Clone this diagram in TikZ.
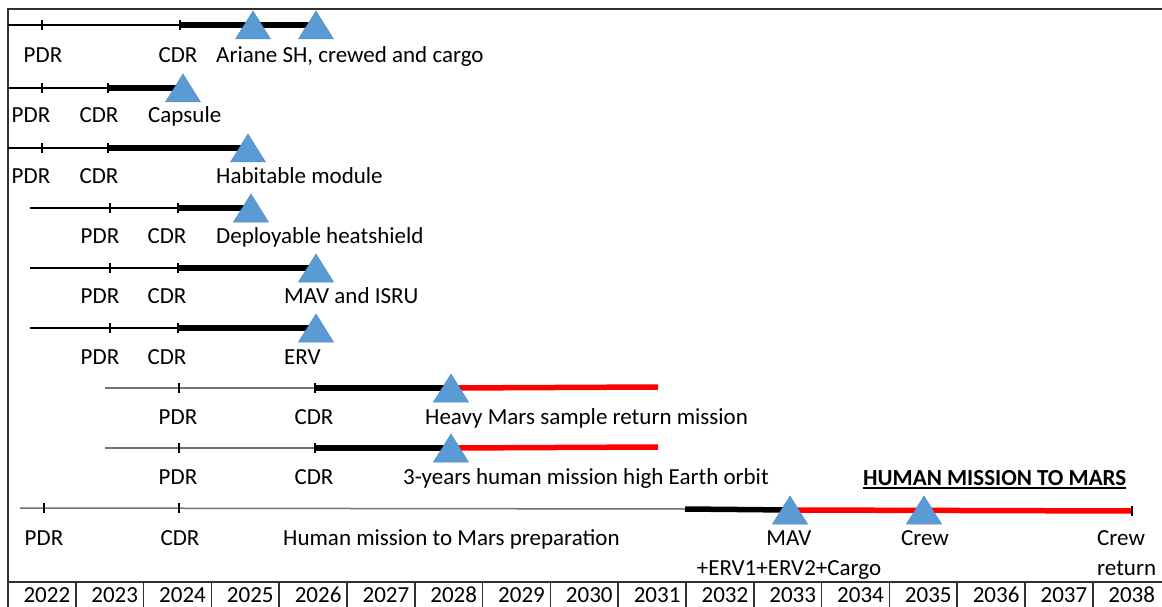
\documentclass[tikz,border=0pt]{standalone}
\usepackage{fontspec}
\setmainfont{Carlito}
\definecolor{triblue}{HTML}{5B9BD5}
\definecolor{tlred}{HTML}{FF0000}
\definecolor{gridc}{HTML}{303030}
\tikzset{
  thinline/.style={line width=1.3pt, black},
  greyline/.style={line width=1.5pt, black!55},
  thickbar/.style={line width=5.5pt, black},
  redbar/.style={line width=5.5pt, tlred},
  tickmk/.style={line width=1.3pt, black},
  gridline/.style={line width=1.5pt, gridc},
  lbl/.style={inner sep=0pt, anchor=base, font=\fontsize{23}{27}\selectfont, text=black},
  desc/.style={lbl, anchor=base west},
  tri/.pic={\fill[triblue, draw=triblue!90!black, line width=0.5pt] (-17.5,14) -- (0,-14) -- (17.5,14) -- cycle;}
}
\newcommand{\tickat}[1]{\draw[tickmk] (#1) ++(0,-5) -- ++(0,10);}
\begin{document}
\begin{tikzpicture}[x=1pt,y=-1pt]
\useasboundingbox (0,0) rectangle (1162,607);
% frame and table
\coordinate (tl) at (8,9);
\coordinate (tr) at (1162,9);
\coordinate (bl) at (8,607);
\coordinate (tabl) at (8,582);
\coordinate (tabr) at (1162,582);
\draw[gridline] (tr) -- (tl) -- (bl);
\draw[gridline] (tabl) -- (tabr);
\foreach \k in {1,...,16} {
  \coordinate (ct\k) at ({8+67.8*\k},582);
  \coordinate (cb\k) at ({8+67.8*\k},607);
  \draw[gridline] (ct\k) -- (cb\k);
}
\foreach \k in {0,...,16} {
  \pgfmathtruncatemacro\yr{2022+\k}
  \node[lbl] (yr\k) at ({8+67.8*(\k+0.5)+5},602) {\yr};
}
% ---------- row 1
\coordinate (a1) at (8,25); \coordinate (p1) at (42,25); \coordinate (c1) at (180,25);
\coordinate (m1a) at (253,25); \coordinate (m1b) at (316,25);
\draw[thinline] (a1) -- (c1);
\draw[thickbar] (c1) -- (m1b);
\tickat{p1} \tickat{c1}
\pic at (m1a) {tri}; \pic at (m1b) {tri};
\node[lbl] (lp1) at (43,63) {PDR};
\node[lbl] (lc1) at (178,63) {CDR};
\node[desc] (d1) at (216,63) {Ariane SH, crewed and cargo};
% ---------- row 2
\coordinate (a2) at (8,88); \coordinate (p2) at (42,88); \coordinate (c2) at (108,88);
\coordinate (m2) at (183,88);
\draw[thinline] (a2) -- (c2);
\draw[thickbar] (c2) -- (m2);
\tickat{p2} \tickat{c2}
\pic at (m2) {tri};
\node[lbl] (lp2) at (31,123) {PDR};
\node[lbl] (lc2) at (99,123) {CDR};
\node[desc] (d2) at (148,123) {Capsule};
% ---------- row 3
\coordinate (a3) at (8,148); \coordinate (p3) at (42,148); \coordinate (c3) at (108,148);
\coordinate (m3) at (248,148);
\draw[thinline] (a3) -- (c3);
\draw[thickbar] (c3) -- (m3);
\tickat{p3} \tickat{c3}
\pic at (m3) {tri};
\node[lbl] (lp3) at (31,183) {PDR};
\node[lbl] (lc3) at (99,183) {CDR};
\node[desc] (d3) at (216,183) {Habitable module};
% ---------- row 4
\coordinate (a4) at (30,208); \coordinate (p4) at (110,208); \coordinate (c4) at (178,208);
\coordinate (m4) at (251,208);
\draw[thinline] (a4) -- (c4);
\draw[thickbar] (c4) -- (m4);
\tickat{p4} \tickat{c4}
\pic at (m4) {tri};
\node[lbl] (lp4) at (100,243) {PDR};
\node[lbl] (lc4) at (167,243) {CDR};
\node[desc] (d4) at (216,243) {Deployable heatshield};
% ---------- row 5
\coordinate (a5) at (30,268); \coordinate (p5) at (110,268); \coordinate (c5) at (178,268);
\coordinate (m5) at (316,268);
\draw[thinline] (a5) -- (c5);
\draw[thickbar] (c5) -- (m5);
\tickat{p5} \tickat{c5}
\pic at (m5) {tri};
\node[lbl] (lp5) at (100,303) {PDR};
\node[lbl] (lc5) at (167,303) {CDR};
\node[desc] (d5) at (284,303) {MAV and ISRU};
% ---------- row 6
\coordinate (a6) at (30,328); \coordinate (p6) at (110,328); \coordinate (c6) at (178,328);
\coordinate (m6) at (316,328);
\draw[thinline] (a6) -- (c6);
\draw[thickbar] (c6) -- (m6);
\tickat{p6} \tickat{c6}
\pic at (m6) {tri};
\node[lbl] (lp6) at (100,364) {PDR};
\node[lbl] (lc6) at (167,364) {CDR};
\node[desc] (d6) at (284,364) {ERV};
% ---------- row 7
\coordinate (a7) at (105,388); \coordinate (p7) at (179,388); \coordinate (c7) at (315,388);
\coordinate (m7) at (451,388); \coordinate (e7) at (658,387);
\draw[greyline] (a7) -- (c7);
\draw[thickbar] (c7) -- (m7);
\draw[redbar] (m7) -- (e7);
\tickat{p7} \tickat{c7}
\pic at (m7) {tri};
\node[lbl] (lp7) at (178,424) {PDR};
\node[lbl] (lc7) at (314,424) {CDR};
\node[desc] (d7) at (425,424) {Heavy Mars sample return mission};
% ---------- row 8
\coordinate (a8) at (105,448); \coordinate (p8) at (179,448); \coordinate (c8) at (315,448);
\coordinate (m8) at (451,448); \coordinate (e8) at (658,447);
\draw[greyline] (a8) -- (c8);
\draw[thickbar] (c8) -- (m8);
\draw[redbar] (m8) -- (e8);
\tickat{p8} \tickat{c8}
\pic at (m8) {tri};
\node[lbl] (lp8) at (178,484) {PDR};
\node[lbl] (lc8) at (314,484) {CDR};
\node[desc] (d8) at (403,484) {3-years human mission high Earth orbit};
% ---------- row 9
\coordinate (a9) at (20,508); \coordinate (p9) at (44,508); \coordinate (c9) at (179,508);
\coordinate (k9) at (685,509); \coordinate (m9) at (790,510); \coordinate (n9) at (924,510);
\coordinate (e9) at (1132,511);
\draw[greyline] (a9) -- (k9);
\draw[thickbar] (k9) -- (m9);
\draw[redbar] (m9) -- (e9);
\tickat{p9} \tickat{c9} \tickat{e9}
\pic at (m9) {tri}; \pic at (n9) {tri};
\node[lbl] (lp9) at (44,545) {PDR};
\node[lbl] (lc9) at (180,545) {CDR};
\node[desc] (d9) at (283,545) {Human mission to Mars preparation};
\node[lbl] (mav) at (789,545) {MAV};
\node[lbl] (erv) at (789,575) {+ERV1+ERV2+Cargo};
\node[lbl] (crew) at (925,545) {Crew};
\node[desc] (crew2) at (1097,545) {Crew};
\node[desc] (ret) at (1097,575) {return};
\node[desc, font=\fontsize{23}{27}\selectfont\bfseries] (hm) at (863,485) {HUMAN MISSION TO MARS};
\draw[line width=1.3pt, black] ([yshift=-3pt]hm.base west) -- ([yshift=-3pt]hm.base east);
\end{tikzpicture}
\end{document}
